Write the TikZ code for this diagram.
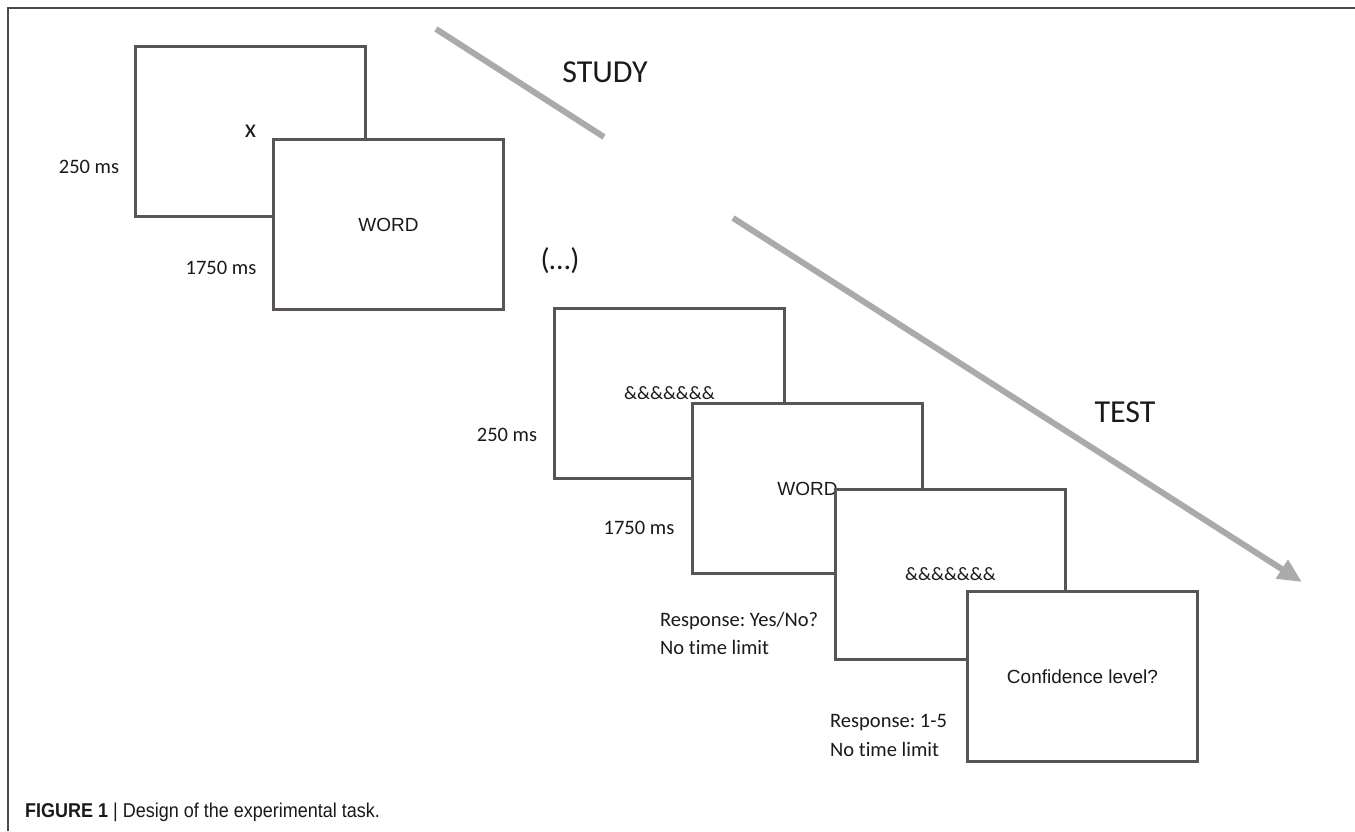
\documentclass[tikz,border=0pt]{standalone}
\usepackage{fontspec}
\setmainfont[Ligatures=NoCommon]{Carlito}
\newfontfamily\arialf{Liberation Sans}
\newfontfamily\capf[FakeStretch=0.9]{Liberation Sans}
\usetikzlibrary{arrows.meta}
\definecolor{boxline}{HTML}{595556}
\definecolor{arrowgray}{HTML}{AAAAAA}
\definecolor{framegray}{HTML}{4A4A4A}
\definecolor{txt}{HTML}{1A1A1A}
\frenchspacing
\begin{document}
\begin{tikzpicture}[x=1pt,y=-1pt,
  screen/.style={draw=boxline,line width=3pt,fill=white,rectangle,anchor=north west,
    minimum width=230pt,minimum height=170pt,inner sep=0pt,text=txt},
  wordtxt/.style={font=\arialf\fontsize{19}{22}\selectfont},
  amptxt/.style={font=\fontsize{19}{22}\selectfont},
  lbl/.style={text=txt,inner sep=0pt,font=\fontsize{20.5}{24}\selectfont},
  phase/.style={text=txt,inner sep=0pt,font=\fontsize{32}{36}\selectfont},
  timeline/.style={draw=arrowgray,line width=6pt}]
\useasboundingbox (0,0) rectangle (1355,831);
\fill[white] (0,0) rectangle (1355,831);
% frame
\draw[framegray,line width=1.5pt] (8,831) -- (8,8) -- (1355,8);
% study
\coordinate (s1) at (436,29);
\coordinate (s2) at (604,137);
\draw[timeline] (s1) -- (s2);
\node[phase] (study) at (605,72) {STUDY};
\node[screen,font=\fontsize{26}{28}\selectfont] (b1) at (134,45) {x};
\node[lbl] (l1) at (89,167) {250 ms};
\node[screen,wordtxt] (b2) at (272,138) {WORD};
\node[lbl] (l2) at (221,268) {1750 ms};
\node[text=txt,inner sep=0pt,font=\fontsize{30}{34}\selectfont] (dots) at (560,261) {(…)};
% test
\coordinate (t1) at (733,218);
\coordinate (t2) at (1302,582);
\draw[timeline,-{Triangle[length=24pt,width=21pt]}] (t1) -- (t2);
\node[phase] (test) at (1125,412) {TEST};
\node[screen,amptxt] (b3) at (553,307) {\&\&\&\&\&\&\&};
\node[lbl] (l3) at (507,435) {250 ms};
\node[screen,wordtxt] (b4) at (691,402) {WORD};
\node[lbl] (l4) at (639,528) {1750 ms};
\node[screen,amptxt] (b5) at (834,488) {\&\&\&\&\&\&\&};
\node[lbl,anchor=west] (r1) at (660,621) {Response: Yes/No?};
\node[lbl,anchor=west] (r2) at (660,647) {No time limit};
\node[screen,wordtxt] (b6) at (966,590) {Confidence level?};
\node[lbl,anchor=west] (r3) at (830,723) {Response: 1-5};
\node[lbl,anchor=west] (r4) at (830,749) {No time limit};
% caption
\node[anchor=west,inner sep=0pt,text=txt,font=\capf\fontsize{20}{24}\selectfont] (cap) at (25,812)
  {\textbf{FIGURE 1} | Design of the experimental task.};
\end{tikzpicture}
\end{document}
